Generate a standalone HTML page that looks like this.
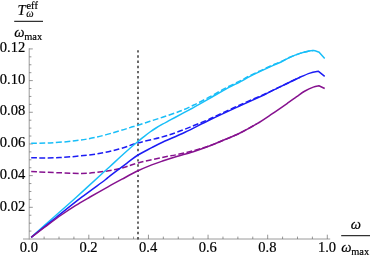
<!DOCTYPE html>
<html><head><meta charset="utf-8"><title>plot</title>
<style>html,body{margin:0;padding:0;background:#fff;overflow:hidden}body{width:374px;height:258px;font-family:"Liberation Serif",serif}svg{position:absolute;left:0;top:0;will-change:transform}</style>
</head><body>
<svg width="374" height="258" viewBox="0 0 374 258" style="display:block">
<rect width="374" height="258" fill="#fff"/>
<g stroke="#9a9a9a" stroke-width="1" fill="none">
<line x1="23" y1="239.0" x2="330.2" y2="239.0"/>
<line x1="29.2" y1="239.5" x2="29.2" y2="48.3"/>
</g>
<g stroke="#6a6a6a" stroke-width="0.7" fill="none">
<line x1="44.11" y1="239.0" x2="44.11" y2="236.60"/>
<line x1="59.01" y1="239.0" x2="59.01" y2="236.60"/>
<line x1="73.92" y1="239.0" x2="73.92" y2="236.60"/>
<line x1="88.82" y1="239.0" x2="88.82" y2="234.70"/>
<line x1="103.73" y1="239.0" x2="103.73" y2="236.60"/>
<line x1="118.63" y1="239.0" x2="118.63" y2="236.60"/>
<line x1="133.54" y1="239.0" x2="133.54" y2="236.60"/>
<line x1="148.44" y1="239.0" x2="148.44" y2="234.70"/>
<line x1="163.34" y1="239.0" x2="163.34" y2="236.60"/>
<line x1="178.25" y1="239.0" x2="178.25" y2="236.60"/>
<line x1="193.16" y1="239.0" x2="193.16" y2="236.60"/>
<line x1="208.06" y1="239.0" x2="208.06" y2="234.70"/>
<line x1="222.97" y1="239.0" x2="222.97" y2="236.60"/>
<line x1="237.87" y1="239.0" x2="237.87" y2="236.60"/>
<line x1="252.78" y1="239.0" x2="252.78" y2="236.60"/>
<line x1="267.68" y1="239.0" x2="267.68" y2="234.70"/>
<line x1="282.59" y1="239.0" x2="282.59" y2="236.60"/>
<line x1="297.49" y1="239.0" x2="297.49" y2="236.60"/>
<line x1="312.40" y1="239.0" x2="312.40" y2="236.60"/>
<line x1="327.30" y1="239.0" x2="327.30" y2="234.70"/>
<line x1="29.2" y1="231.08" x2="31.40" y2="231.08"/>
<line x1="29.2" y1="223.16" x2="31.40" y2="223.16"/>
<line x1="29.2" y1="215.24" x2="31.40" y2="215.24"/>
<line x1="29.2" y1="207.32" x2="32.80" y2="207.32"/>
<line x1="29.2" y1="199.40" x2="31.40" y2="199.40"/>
<line x1="29.2" y1="191.48" x2="31.40" y2="191.48"/>
<line x1="29.2" y1="183.56" x2="31.40" y2="183.56"/>
<line x1="29.2" y1="175.64" x2="32.80" y2="175.64"/>
<line x1="29.2" y1="167.72" x2="31.40" y2="167.72"/>
<line x1="29.2" y1="159.80" x2="31.40" y2="159.80"/>
<line x1="29.2" y1="151.88" x2="31.40" y2="151.88"/>
<line x1="29.2" y1="143.96" x2="32.80" y2="143.96"/>
<line x1="29.2" y1="136.04" x2="31.40" y2="136.04"/>
<line x1="29.2" y1="128.12" x2="31.40" y2="128.12"/>
<line x1="29.2" y1="120.20" x2="31.40" y2="120.20"/>
<line x1="29.2" y1="112.28" x2="32.80" y2="112.28"/>
<line x1="29.2" y1="104.36" x2="31.40" y2="104.36"/>
<line x1="29.2" y1="96.44" x2="31.40" y2="96.44"/>
<line x1="29.2" y1="88.52" x2="31.40" y2="88.52"/>
<line x1="29.2" y1="80.60" x2="32.80" y2="80.60"/>
<line x1="29.2" y1="72.68" x2="31.40" y2="72.68"/>
<line x1="29.2" y1="64.76" x2="31.40" y2="64.76"/>
<line x1="29.2" y1="56.84" x2="31.40" y2="56.84"/>
<line x1="29.2" y1="48.92" x2="32.80" y2="48.92"/>
</g>
<line x1="138.0" y1="239.4" x2="138.0" y2="50.1" stroke="#222" stroke-width="1.35" stroke-dasharray="2.4 2.79"/>
<path d="M31.20,143.20 C34.33,143.15 42.70,143.30 50.00,142.90 C57.30,142.50 67.28,141.75 75.00,140.80 C82.72,139.85 88.97,138.83 96.30,137.20 C103.63,135.57 113.38,132.60 119.00,131.00 C124.62,129.40 126.83,128.57 130.00,127.60 C133.17,126.63 134.67,126.25 138.00,125.20 C141.33,124.15 145.92,122.62 150.00,121.30 C154.08,119.98 158.33,118.68 162.50,117.30 C166.67,115.92 171.58,114.22 175.00,113.00 C178.42,111.78 180.22,111.17 183.00,110.00 C185.78,108.83 188.87,107.33 191.70,106.00 C194.53,104.67 196.62,103.73 200.00,102.00 C203.38,100.27 207.83,97.87 212.00,95.60 C216.17,93.33 220.00,91.02 225.00,88.40 C230.00,85.78 237.83,82.03 242.00,79.90 C246.17,77.77 245.33,77.87 250.00,75.60 C254.67,73.33 265.00,68.55 270.00,66.30 C275.00,64.05 276.67,63.62 280.00,62.10 C283.33,60.58 286.67,58.65 290.00,57.20 C293.33,55.75 296.95,54.40 300.00,53.40 C303.05,52.40 306.08,51.67 308.30,51.20 C310.52,50.73 312.47,50.70 313.30,50.60" fill="none" stroke="#18BEF8" stroke-width="1.5" stroke-linejoin="round" stroke-dasharray="5.8 2.5"/>
<path d="M31.20,157.80 C36.00,157.77 49.15,158.23 60.00,157.60 C70.85,156.97 86.47,155.43 96.30,154.00 C106.13,152.57 112.05,150.85 119.00,149.00 C125.95,147.15 130.88,144.88 138.00,142.90 C145.12,140.92 155.25,138.87 161.70,137.10 C168.15,135.33 171.43,134.18 176.70,132.30 C181.97,130.42 188.30,127.80 193.30,125.80 C198.30,123.80 202.62,122.07 206.70,120.30 C210.78,118.53 212.25,117.77 217.80,115.20 C223.35,112.63 232.23,108.40 240.00,104.90 C247.77,101.40 259.07,96.58 264.40,94.20 C269.73,91.82 269.40,91.82 272.00,90.60 C274.60,89.38 277.00,88.33 280.00,86.90 C283.00,85.47 286.67,83.62 290.00,82.00 C293.33,80.38 298.33,78.00 300.00,77.20" fill="none" stroke="#1C1CF4" stroke-width="1.5" stroke-linejoin="round" stroke-dasharray="5.8 2.5"/>
<path d="M31.20,171.60 C36.00,171.80 51.58,172.50 60.00,172.80 C68.42,173.10 75.65,173.47 81.70,173.40 C87.75,173.33 90.08,173.17 96.30,172.40 C102.52,171.63 112.05,170.38 119.00,168.80 C125.95,167.22 130.62,164.83 138.00,162.90 C145.38,160.97 156.85,158.57 163.30,157.20 C169.75,155.83 171.70,155.78 176.70,154.70 C181.70,153.62 187.75,152.22 193.30,150.70 C198.85,149.18 205.22,147.25 210.00,145.60 C214.78,143.95 217.00,142.90 222.00,140.80 C227.00,138.70 234.22,135.82 240.00,133.00 C245.78,130.18 253.92,125.42 256.70,123.90" fill="none" stroke="#86128F" stroke-width="1.5" stroke-linejoin="round" stroke-dasharray="5.8 2.5"/>
<path d="M31.20,237.30 C35.00,233.92 46.48,223.68 54.00,217.00 C61.52,210.32 68.53,204.20 76.30,197.20 C84.07,190.20 94.98,180.12 100.60,175.00 C106.22,169.88 106.73,169.50 110.00,166.50 C113.27,163.50 116.87,160.05 120.20,157.00 C123.53,153.95 127.03,150.78 130.00,148.20 C132.97,145.62 135.67,143.43 138.00,141.50 C140.33,139.57 142.00,138.18 144.00,136.60 C146.00,135.02 148.00,133.43 150.00,132.00 C152.00,130.57 153.92,129.30 156.00,128.00 C158.08,126.70 160.33,125.42 162.50,124.20 C164.67,122.98 166.92,121.82 169.00,120.70 C171.08,119.58 172.67,118.75 175.00,117.50 C177.33,116.25 180.22,114.70 183.00,113.20 C185.78,111.70 188.87,110.05 191.70,108.50 C194.53,106.95 196.62,105.82 200.00,103.90 C203.38,101.98 207.83,99.38 212.00,97.00 C216.17,94.62 220.00,92.30 225.00,89.60 C230.00,86.90 237.83,83.02 242.00,80.80 C246.17,78.58 245.33,78.62 250.00,76.30 C254.67,73.98 265.00,69.20 270.00,66.90 C275.00,64.60 276.67,64.08 280.00,62.50 C283.33,60.92 286.67,58.92 290.00,57.40 C293.33,55.88 296.95,54.43 300.00,53.40 C303.05,52.37 306.08,51.67 308.30,51.20 C310.52,50.73 311.53,50.47 313.30,50.60 C315.07,50.73 317.97,51.77 318.90,52.00 L324.70,58.60" fill="none" stroke="#18BEF8" stroke-width="1.5" stroke-linejoin="round"/>
<path d="M31.20,237.30 C35.33,234.00 47.58,224.18 56.00,217.50 C64.42,210.82 73.53,203.45 81.70,197.20 C89.87,190.95 100.28,183.57 105.00,180.00 C109.72,176.43 106.38,178.58 110.00,175.80 C113.62,173.02 122.03,166.77 126.70,163.30 C131.37,159.83 133.83,157.60 138.00,155.00 C142.17,152.40 147.53,149.87 151.70,147.70 C155.87,145.53 157.45,144.57 163.00,142.00 C168.55,139.43 177.17,136.00 185.00,132.30 C192.83,128.60 200.83,124.22 210.00,119.80 C219.17,115.38 230.93,109.98 240.00,105.80 C249.07,101.62 259.07,97.20 264.40,94.70 C269.73,92.20 269.40,92.10 272.00,90.80 C274.60,89.50 277.00,88.37 280.00,86.90 C283.00,85.43 286.67,83.62 290.00,82.00 C293.33,80.38 296.67,78.68 300.00,77.20 C303.33,75.72 306.92,74.08 310.00,73.10 C313.08,72.12 317.08,71.60 318.50,71.30 L324.70,76.30" fill="none" stroke="#1C1CF4" stroke-width="1.5" stroke-linejoin="round"/>
<path d="M31.20,237.30 C33.45,235.62 39.68,230.92 44.70,227.20 C49.72,223.48 56.18,218.60 61.30,215.00 C66.42,211.40 70.62,208.60 75.40,205.60 C80.18,202.60 84.57,200.13 90.00,197.00 C95.43,193.87 102.67,189.77 108.00,186.80 C113.33,183.83 117.00,181.87 122.00,179.20 C127.00,176.53 133.05,173.18 138.00,170.80 C142.95,168.42 147.48,166.57 151.70,164.90 C155.92,163.23 159.13,162.20 163.30,160.80 C167.47,159.40 171.70,158.02 176.70,156.50 C181.70,154.98 187.75,153.48 193.30,151.70 C198.85,149.92 205.22,147.62 210.00,145.80 C214.78,143.98 217.00,142.93 222.00,140.80 C227.00,138.67 234.22,135.82 240.00,133.00 C245.78,130.18 251.37,127.08 256.70,123.90 C262.03,120.72 266.87,117.35 272.00,113.90 C277.13,110.45 283.38,106.08 287.50,103.20 C291.62,100.32 293.78,98.63 296.70,96.60 C299.62,94.57 302.23,92.58 305.00,91.00 C307.77,89.42 310.98,87.97 313.30,87.10 C315.62,86.23 317.97,86.02 318.90,85.80 L324.70,88.50" fill="none" stroke="#86128F" stroke-width="1.5" stroke-linejoin="round"/>
<g font-family="'Liberation Serif', serif" font-size="14" fill="#000" stroke="#000" stroke-width="0.18">
<text transform="translate(28.90,252.40) scale(1.04,1)" text-anchor="middle">0.0</text>
<text transform="translate(88.52,252.40) scale(1.04,1)" text-anchor="middle">0.2</text>
<text transform="translate(148.14,252.40) scale(1.04,1)" text-anchor="middle">0.4</text>
<text transform="translate(207.76,252.40) scale(1.04,1)" text-anchor="middle">0.6</text>
<text transform="translate(267.38,252.40) scale(1.04,1)" text-anchor="middle">0.8</text>
<text transform="translate(327.00,252.40) scale(1.04,1)" text-anchor="middle">1.0</text>
<text transform="translate(25.20,210.52) scale(1.04,1)" text-anchor="end">0.02</text>
<text transform="translate(25.20,178.84) scale(1.04,1)" text-anchor="end">0.04</text>
<text transform="translate(25.20,147.16) scale(1.04,1)" text-anchor="end">0.06</text>
<text transform="translate(25.20,115.48) scale(1.04,1)" text-anchor="end">0.08</text>
<text transform="translate(25.20,83.80) scale(1.04,1)" text-anchor="end">0.10</text>
<text transform="translate(25.20,52.12) scale(1.04,1)" text-anchor="end">0.12</text>
<text transform="translate(17.40,14.70) scale(1.04,1)" font-style="italic">T</text>
<text transform="translate(26.50,8.70) scale(1.04,1)" font-size="10">eff</text>
<text transform="translate(26.30,17.00) scale(1.04,1)" font-size="10" font-style="italic">ω</text>
<text transform="translate(14.30,37.00) scale(1.04,1)" font-style="italic">ω</text>
<text transform="translate(24.20,40.00) scale(1.04,1)" font-size="10">max</text>
<text transform="translate(350.80,229.20) scale(1.04,1)" font-style="italic">ω</text>
<text transform="translate(341.30,252.00) scale(1.04,1)" font-style="italic">ω</text>
<text transform="translate(351.20,255.00) scale(1.04,1)" font-size="10">max</text>
</g>
<rect x="14.2" y="20.8" width="28.8" height="1" fill="#000"/>
<rect x="341.2" y="235.2" width="28.8" height="1" fill="#000"/>
</svg>
</body></html>
